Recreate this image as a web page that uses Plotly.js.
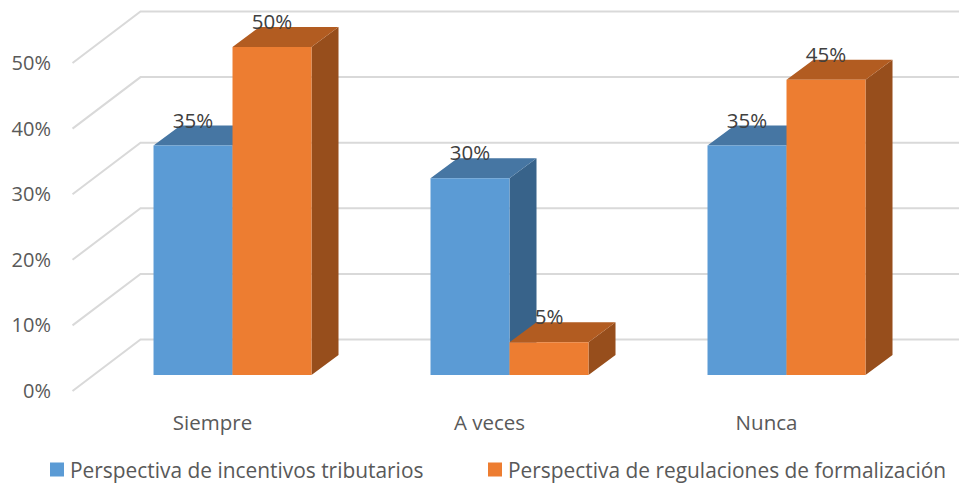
<!DOCTYPE html>
<html>
<head>
<meta charset="utf-8">
<script src="https://cdn.plot.ly/plotly-3.0.1.min.js"></script>
<style>html,body{margin:0;padding:0;background:#fff}#chart{width:959px;height:484px}</style>
</head>
<body>
<div id="chart"></div>
<script>
const categories = ['Siempre', 'A veces', 'Nunca'];
const incentivos = [35, 30, 35];
const regulaciones = [50, 5, 45];
const seriesNames = ['Perspectiva de incentivos tributarios', 'Perspectiva de regulaciones de formalización'];
const seriesColors = ['#5B9BD5', '#ED7D31'];
const gridValues = [0, 10, 20, 30, 40, 50];

// 3-D projection, in axis units
const barW = 79 / 277;
const depthX = 27 / 277, depthY = 20 / 6.56;
const wallX = -92 / 277, wallY = 35.5 / 6.56;
const wallFrontX = -160 / 277, wallFrontY = -16 / 6.56;
const labelLift = 23 / 6.56;
const xRange = [-0.6228, 2.6227], yRange = [-3.81, 57.16];
const positions = categories.map((_, i) => i);
const F = '"Open Sans", "Noto Sans", sans-serif';

function faces(values, shift) {
  const top = {x: [], y: []}, side = {x: [], y: []};
  values.forEach((v, i) => {
    const l = i + shift, r = l + barW;
    top.x.push(l, r, r + depthX, l + depthX, l, null);
    top.y.push(v, v, v + depthY, v + depthY, v, null);
    side.x.push(r, r + depthX, r + depthX, r, r, null);
    side.y.push(0, depthY, v + depthY, v, 0, null);
  });
  return {top, side};
}
function poly(p, color) {
  return {type: 'scatter', mode: 'lines', x: p.x, y: p.y, fill: 'toself', fillcolor: color,
    line: {width: 0, color: color}, showlegend: false, hoverinfo: 'skip', xaxis: 'x', yaxis: 'y'};
}
const gx = [], gy = [];
gridValues.forEach(v => {
  gx.push(wallFrontX, wallX, xRange[1], null);
  gy.push(v + wallFrontY, v + wallY, v + wallY, null);
});
const grid = {type: 'scatter', mode: 'lines', x: gx, y: gy, line: {color: '#D9D9D9', width: 2},
  showlegend: false, hoverinfo: 'skip', xaxis: 'x', yaxis: 'y'};

const fa = faces(incentivos, -barW), fb = faces(regulaciones, 0);
function front(values, name, color, off, legendId) {
  return {type: 'bar', name: name, legend: legendId, x: positions, y: values, width: barW, offset: off,
    marker: {color: color, line: {width: 0}}, xaxis: 'x2', yaxis: 'y2', hoverinfo: 'skip'};
}
function labels(values, shift) {
  return {type: 'scatter', mode: 'text', x: positions.map(i => i + shift), y: values.map(v => v + labelLift),
    text: values.map(v => v + '%'), textposition: 'middle center', textfont: {family: F, size: 20.5, color: '#404040'},
    showlegend: false, hoverinfo: 'skip', xaxis: 'x2', yaxis: 'y2', cliponaxis: false};
}
const data = [
  grid,
  poly(fa.side, '#38638A'), poly(fa.top, '#4676A3'),
  poly(fb.side, '#974E1C'), poly(fb.top, '#B25C21'),
  front(incentivos, seriesNames[0], seriesColors[0], -barW, 'legend'),
  front(regulaciones, seriesNames[1], seriesColors[1], 0, 'legend2'),
  labels(incentivos, -barW / 2), labels(regulaciones, barW / 2)
];
function legendAt(leftPx) {
  return {orientation: 'h', xref: 'container', yref: 'container', x: leftPx / 959, y: 1 - 470 / 484,
    xanchor: 'left', yanchor: 'middle', itemwidth: 30,
    font: {family: F, size: 20.9, color: '#595959'}, bgcolor: 'rgba(0,0,0,0)'};
}
const layout = {
  width: 959, height: 484,
  margin: {l: 60, r: 0, t: 0, b: 84},
  paper_bgcolor: '#fff', plot_bgcolor: 'rgba(0,0,0,0)',
  barmode: 'overlay',
  font: {family: F, size: 20, color: '#595959'},
  xaxis: {range: xRange, tickmode: 'array', tickvals: positions, ticktext: categories,
    ticklabelshift: -20, ticklabelstandoff: 8, showgrid: false, zeroline: false, showline: false, ticks: '',
    tickfont: {family: F, size: 20.5, color: '#595959'}},
  yaxis: {range: yRange, tickmode: 'array', tickvals: gridValues, ticktext: gridValues.map(v => v + '%'),
    ticklabelshift: 16, ticklabelstandoff: 8, showgrid: false, zeroline: false, showline: false, ticks: '',
    tickfont: {family: F, size: 20, color: '#595959'}},
  xaxis2: {range: xRange, overlaying: 'x', visible: false},
  yaxis2: {range: yRange, overlaying: 'y', visible: false},
  legend: legendAt(30),
  legend2: legendAt(468),
  showlegend: true
};
Plotly.newPlot('chart', data, layout, {displayModeBar: false, staticPlot: true}).then(gd => {
  // legend swatches: 14 px squares sitting close to their text
  gd.querySelectorAll('.legendsymbols').forEach(g => g.setAttribute('transform', 'translate(7,0)'));
  gd.querySelectorAll('.legendsymbols path').forEach((p, i) => {
    p.style.stroke = seriesColors[i];
    p.style.strokeWidth = '2px';
  });
});
</script>
</body>
</html>
